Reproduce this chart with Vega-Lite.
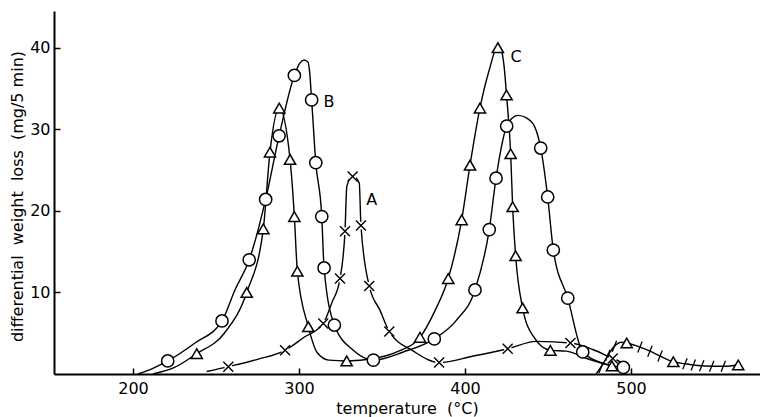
{
  "$schema": "https://vega.github.io/schema/vega-lite/v6.json",
  "width": 706,
  "height": 363,
  "autosize": {"type": "none"},
  "padding": {"left": 54, "top": 11, "right": 0, "bottom": 43},
  "background": "white",
  "config": {"view": {"stroke": null}, "font": "DejaVu Sans"},
  "datasets": {
    "lines": [
      {"s":"A","t":244.4,"v":0.3},{"s":"A","t":257.4,"v":0.9},{"s":"A","t":275,"v":1.8},{"s":"A","t":291.6,"v":2.9},{"s":"A","t":303,"v":4.5},{"s":"A","t":314.6,"v":6.2},{"s":"A","t":319.7,"v":8.7},{"s":"A","t":324.7,"v":11.7},{"s":"A","t":327.7,"v":17.5},{"s":"A","t":328.8,"v":23.0},{"s":"A","t":332.3,"v":24.3},{"s":"A","t":336.3,"v":23.4},{"s":"A","t":337.3,"v":18.2},{"s":"A","t":342.3,"v":10.8},{"s":"A","t":348.8,"v":7.8},{"s":"A","t":354.4,"v":5.2},{"s":"A","t":368.9,"v":2.8},{"s":"A","t":384.4,"v":1.4},{"s":"A","t":405,"v":2.2},{"s":"A","t":425.7,"v":3.1},{"s":"A","t":443,"v":4.0},{"s":"A","t":463.5,"v":3.8},{"s":"A","t":477,"v":3.0},{"s":"A","t":489,"v":1.9},{"s":"A","t":496,"v":1.3},
      {"s":"B","t":203,"v":0},{"s":"B","t":212,"v":0.7},{"s":"B","t":220.9,"v":1.6},{"s":"B","t":237.3,"v":3.8},{"s":"B","t":253.6,"v":6.5},{"s":"B","t":261.4,"v":10.3},{"s":"B","t":270.0,"v":14.0},{"s":"B","t":279.9,"v":21.4},{"s":"B","t":288,"v":29.2},{"s":"B","t":297.2,"v":36.6},{"s":"B","t":300.5,"v":38.1},{"s":"B","t":303,"v":38.5},{"s":"B","t":305.5,"v":38.2},{"s":"B","t":306.4,"v":37.0},{"s":"B","t":307.6,"v":33.6},{"s":"B","t":310.1,"v":25.9},{"s":"B","t":313.7,"v":19.3},{"s":"B","t":315.1,"v":13.0},{"s":"B","t":321.3,"v":6.0},{"s":"B","t":332.7,"v":2.9},{"s":"B","t":344.8,"v":1.7},{"s":"B","t":362.8,"v":2.7},{"s":"B","t":381.5,"v":4.3},{"s":"B","t":394.9,"v":6.6},{"s":"B","t":406,"v":10.3},{"s":"B","t":414.6,"v":17.7},{"s":"B","t":418.7,"v":24.0},{"s":"B","t":425.1,"v":30.4},{"s":"B","t":428,"v":31.3},{"s":"B","t":432,"v":31.7},{"s":"B","t":437,"v":31.4},{"s":"B","t":442,"v":30.3},{"s":"B","t":445.6,"v":27.7},{"s":"B","t":449.8,"v":21.7},{"s":"B","t":453.2,"v":15.2},{"s":"B","t":461.9,"v":9.3},{"s":"B","t":470.9,"v":2.7},{"s":"B","t":483.3,"v":1.3},{"s":"B","t":495.4,"v":0.8},
      {"s":"C","t":212,"v":0},{"s":"C","t":225,"v":0.8},{"s":"C","t":238.4,"v":2.5},{"s":"C","t":255,"v":5.0},{"s":"C","t":268.5,"v":10.0},{"s":"C","t":278.5,"v":17.8},{"s":"C","t":282.5,"v":27.2},{"s":"C","t":288.1,"v":32.6},{"s":"C","t":294.6,"v":26.3},{"s":"C","t":297.2,"v":19.3},{"s":"C","t":299.0,"v":12.6},{"s":"C","t":305.6,"v":5.8},{"s":"C","t":311,"v":2.6},{"s":"C","t":318,"v":1.7},{"s":"C","t":328.7,"v":1.6},{"s":"C","t":345,"v":1.9},{"s":"C","t":360,"v":2.8},{"s":"C","t":372.9,"v":4.5},{"s":"C","t":382,"v":7.8},{"s":"C","t":389.9,"v":11.7},{"s":"C","t":398,"v":18.9},{"s":"C","t":403,"v":25.6},{"s":"C","t":409,"v":32.6},{"s":"C","t":414.5,"v":37.2},{"s":"C","t":419.8,"v":40.2},{"s":"C","t":422,"v":39.6},{"s":"C","t":423.5,"v":37.8},{"s":"C","t":425,"v":34.2},{"s":"C","t":427.5,"v":27.0},{"s":"C","t":428.7,"v":20.5},{"s":"C","t":430.5,"v":14.5},{"s":"C","t":434.7,"v":8.1},{"s":"C","t":441.2,"v":4.6},{"s":"C","t":451.4,"v":2.9},{"s":"C","t":461,"v":2.8},{"s":"C","t":473.3,"v":1.9},{"s":"C","t":488.5,"v":1.0},
      {"s":"D","t":479,"v":0},{"s":"D","t":483,"v":1.2},{"s":"D","t":487,"v":2.6},{"s":"D","t":491,"v":3.6},{"s":"D","t":494,"v":3.9},{"s":"D","t":497.4,"v":3.8},{"s":"D","t":505.4,"v":3.3},{"s":"D","t":511.4,"v":2.8},{"s":"D","t":517.5,"v":2.2},{"s":"D","t":525.5,"v":1.5},{"s":"D","t":532.5,"v":1.25},{"s":"D","t":540,"v":1.05},{"s":"D","t":548.6,"v":0.95},{"s":"D","t":556,"v":0.95},{"s":"D","t":564.6,"v":1.1}
    ],
    "pts": [
      {"s":"A","t":257.4,"v":0.9},{"s":"A","t":291.6,"v":2.9},{"s":"A","t":314.6,"v":6.2},{"s":"A","t":324.7,"v":11.7},{"s":"A","t":327.7,"v":17.5},{"s":"A","t":332.3,"v":24.2},{"s":"A","t":337.3,"v":18.2},{"s":"A","t":342.3,"v":10.8},{"s":"A","t":354.4,"v":5.2},{"s":"A","t":384.4,"v":1.4},{"s":"A","t":425.7,"v":3.1},{"s":"A","t":463.5,"v":3.8},{"s":"A","t":489,"v":1.9},
      {"s":"B","t":220.9,"v":1.6},{"s":"B","t":253.6,"v":6.5},{"s":"B","t":270.0,"v":14.0},{"s":"B","t":279.9,"v":21.4},{"s":"B","t":288,"v":29.2},{"s":"B","t":297.2,"v":36.6},{"s":"B","t":307.6,"v":33.6},{"s":"B","t":310.1,"v":25.9},{"s":"B","t":313.7,"v":19.3},{"s":"B","t":315.1,"v":13.0},{"s":"B","t":321.3,"v":6.0},{"s":"B","t":344.8,"v":1.7},{"s":"B","t":381.5,"v":4.3},{"s":"B","t":406,"v":10.3},{"s":"B","t":414.6,"v":17.7},{"s":"B","t":418.7,"v":24.0},{"s":"B","t":425.1,"v":30.4},{"s":"B","t":445.6,"v":27.7},{"s":"B","t":449.8,"v":21.7},{"s":"B","t":453.2,"v":15.2},{"s":"B","t":461.9,"v":9.3},{"s":"B","t":470.9,"v":2.7},{"s":"B","t":495.4,"v":0.8},
      {"s":"C","t":238.4,"v":2.5},{"s":"C","t":268.5,"v":10.0},{"s":"C","t":278.5,"v":17.8},{"s":"C","t":282.5,"v":27.2},{"s":"C","t":288.1,"v":32.6},{"s":"C","t":294.6,"v":26.3},{"s":"C","t":297.2,"v":19.3},{"s":"C","t":299.0,"v":12.6},{"s":"C","t":305.6,"v":5.8},{"s":"C","t":328.7,"v":1.6},{"s":"C","t":372.9,"v":4.5},{"s":"C","t":389.9,"v":11.7},{"s":"C","t":398,"v":18.9},{"s":"C","t":403,"v":25.6},{"s":"C","t":409,"v":32.6},{"s":"C","t":419.8,"v":40.0},{"s":"C","t":425,"v":34.2},{"s":"C","t":427.5,"v":27.0},{"s":"C","t":428.7,"v":20.5},{"s":"C","t":430.5,"v":14.5},{"s":"C","t":434.7,"v":8.1},{"s":"C","t":451.4,"v":2.9},{"s":"C","t":488.5,"v":1.0},
      {"s":"D","t":497.4,"v":3.8},{"s":"D","t":525.5,"v":1.5},{"s":"D","t":564.6,"v":1.1}
    ],
    "hatch": [
      {"t":482,"v":0.8},{"t":486,"v":2.3},{"t":490,"v":3.4},{"t":505.4,"v":3.3},{"t":511.4,"v":2.8},{"t":517.5,"v":2.2},{"t":532.5,"v":1.25},{"t":537.5,"v":1.1},{"t":542.6,"v":1.0},{"t":548.6,"v":0.95},{"t":555.6,"v":0.95}
    ],
    "labels": [
      {"t":343.8,"v":21.3,"txt":"A"},{"t":318.1,"v":33.4,"txt":"B"},{"t":430.7,"v":38.9,"txt":"C"}
    ]
  },
  "encoding": {
    "x": {
      "field": "t", "type": "quantitative",
      "scale": {"domain": [152.4, 577.7], "nice": false, "zero": false},
      "axis": {
        "values": [200, 300, 400, 500], "grid": false,
        "tickSize": -6, "tickWidth": 1.5, "tickColor": "black",
        "domainColor": "black", "domainWidth": 2,
        "labelPadding": 12, "labelFont": "DejaVu Sans", "labelFontSize": 16, "labelColor": "black", "labelFlush": false,
        "title": "temperature\u00a0\u00a0(°C)", "titleFont": "DejaVu Sans", "titleFontSize": 16, "titleFontWeight": "normal", "titleColor": "black",
        "titleX": 353, "titleY": 34, "titleAlign": "center", "titleBaseline": "middle"
      }
    },
    "y": {
      "field": "v", "type": "quantitative",
      "scale": {"domain": [0, 44.5], "nice": false},
      "axis": {
        "values": [10, 20, 30, 40], "grid": false,
        "tickSize": -6, "tickWidth": 1.5, "tickColor": "black",
        "domainColor": "black", "domainWidth": 2,
        "labelPadding": 10, "labelFont": "DejaVu Sans", "labelFontSize": 16, "labelColor": "black", "labelFlush": false,
        "title": "differential\u00a0\u00a0weight\u00a0\u00a0loss\u00a0\u00a0(mg/5 min)", "titleFont": "DejaVu Sans", "titleFontSize": 16, "titleFontWeight": "normal", "titleColor": "black",
        "titleX": -37, "titleY": 185, "titleAngle": -90, "titleAlign": "center", "titleBaseline": "middle"
      }
    }
  },
  "layer": [
    {
      "data": {"name": "lines"},
      "mark": {"type": "line", "interpolate": "monotone", "color": "black", "strokeWidth": 1.4},
      "encoding": {"detail": {"field": "s", "type": "nominal"}}
    },
    {
      "data": {"name": "pts"},
      "transform": [{"filter": "datum.s === 'A'"}],
      "mark": {"type": "point", "shape": "circle", "filled": true, "color": "white", "size": 60, "opacity": 1, "strokeWidth": 0}
    },
    {
      "data": {"name": "pts"},
      "transform": [{"filter": "datum.s === 'B'"}],
      "mark": {"type": "point", "shape": "circle", "fill": "white", "fillOpacity": 1, "stroke": "black", "strokeWidth": 1.5, "size": 150, "opacity": 1}
    },
    {
      "data": {"name": "pts"},
      "transform": [{"filter": "datum.s === 'C' || datum.s === 'D'"}],
      "mark": {"type": "point", "shape": "triangle-up", "fill": "white", "fillOpacity": 1, "stroke": "black", "strokeWidth": 1.5, "size": 125, "opacity": 1}
    },
    {
      "data": {"name": "pts"},
      "transform": [{"filter": "datum.s === 'A'"}],
      "mark": {"type": "point", "shape": "M-1,-1L1,1M-1,1L1,-1", "filled": false, "stroke": "black", "strokeWidth": 1.4, "size": 100, "opacity": 1}
    },
    {
      "data": {"name": "hatch"},
      "mark": {"type": "point", "shape": "M-0.4,1L0.4,-1", "filled": false, "stroke": "black", "strokeWidth": 1.3, "size": 120, "opacity": 1}
    },
    {
      "data": {"name": "labels"},
      "mark": {"type": "text", "font": "DejaVu Sans", "fontSize": 16, "color": "black", "align": "center", "baseline": "middle"},
      "encoding": {"text": {"field": "txt", "type": "nominal"}}
    }
  ]
}
